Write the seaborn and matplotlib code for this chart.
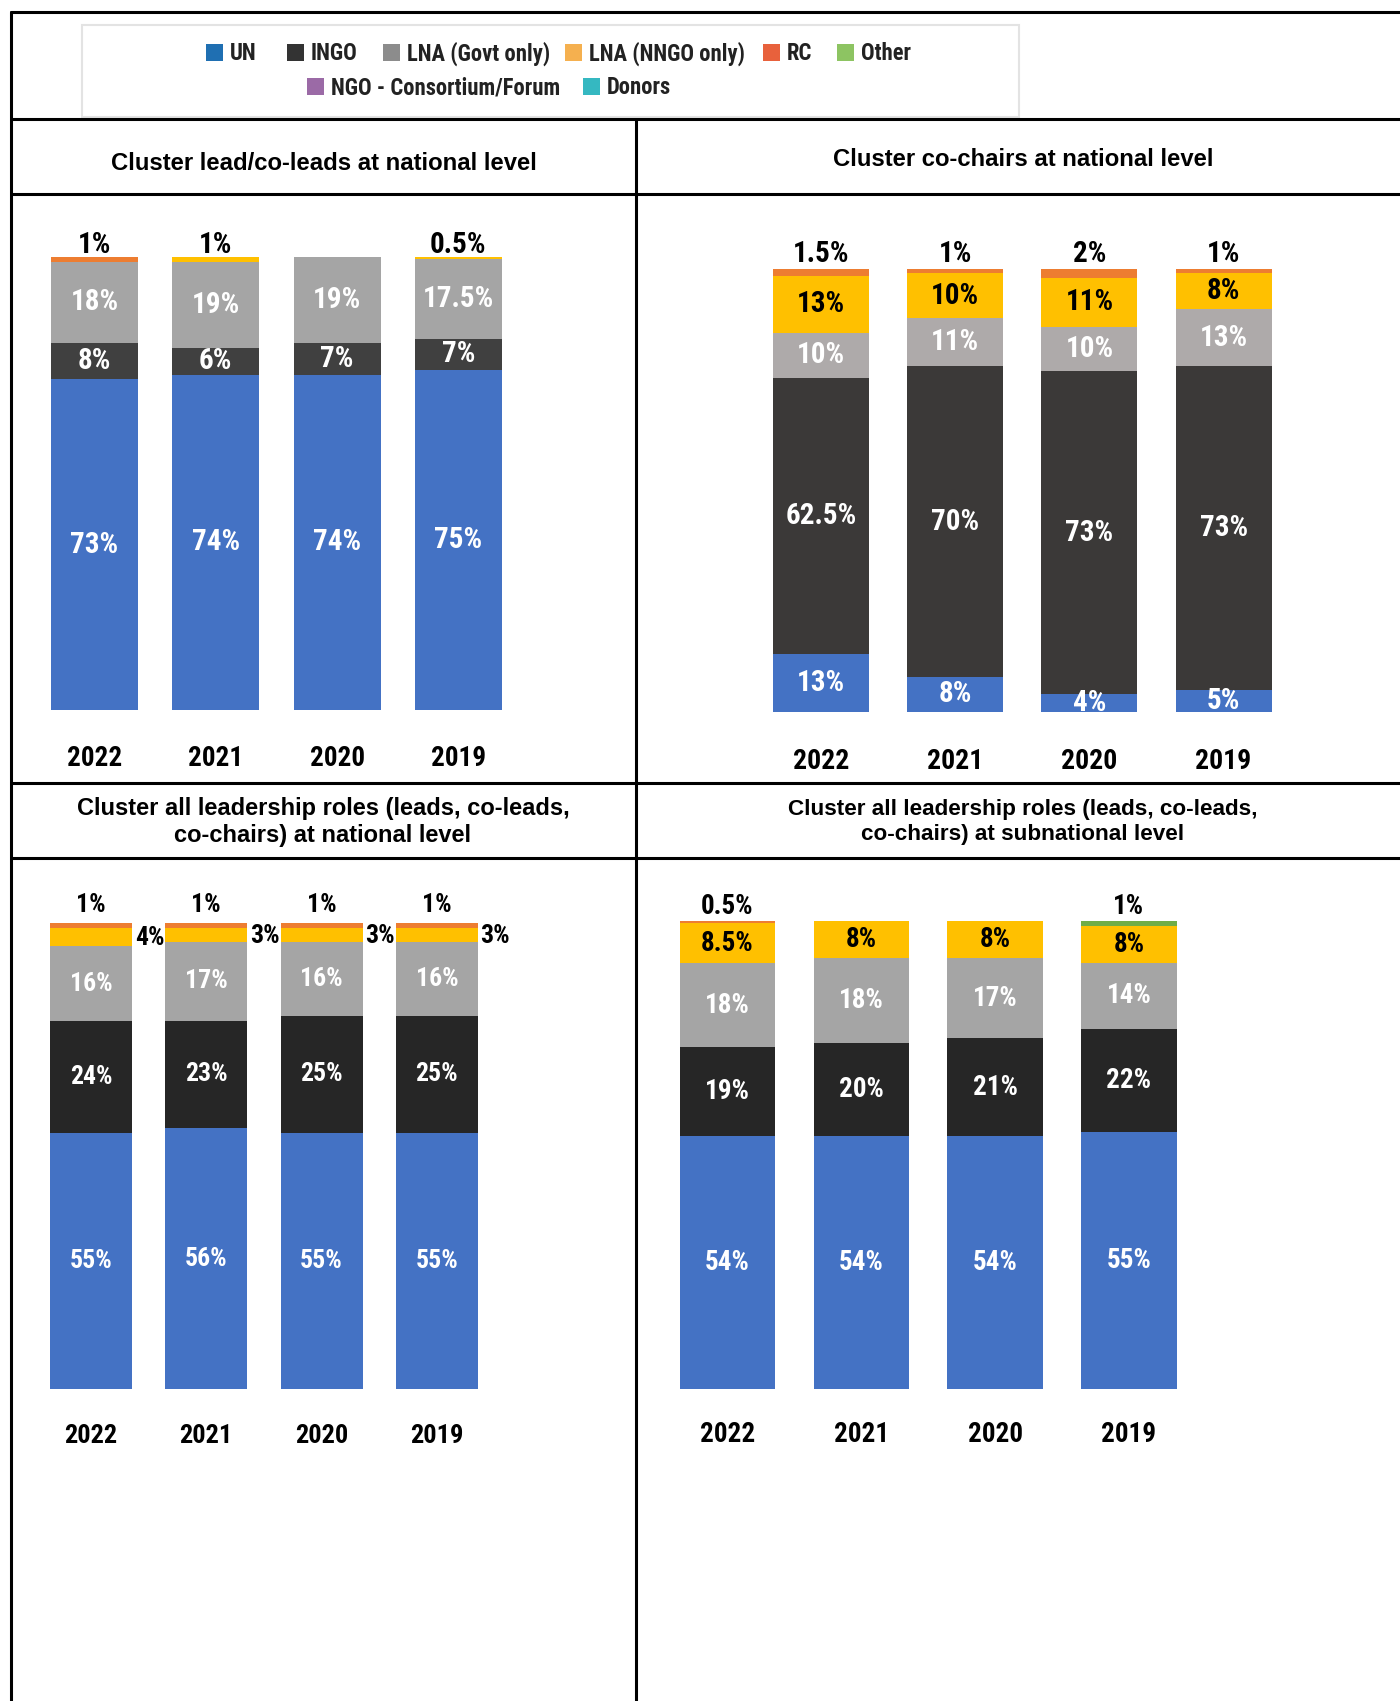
import numpy as np
import pandas as pd
import matplotlib
matplotlib.use("Agg")
import matplotlib.pyplot as plt
from matplotlib import font_manager
from matplotlib.lines import Line2D
from matplotlib.patches import Rectangle
import seaborn as sns

sns.set_style("white")
plt.rcParams["font.family"] = ["Liberation Sans", "DejaVu Sans"]

W, H = 1400, 1701
DPI = 100

years = ["2022", "2021", "2020", "2019"]

# Cluster lead/co-leads at national level (%)
lead_un = [73, 74, 74, 75]
lead_ingo = [8, 6, 7, 7]
lead_govt = [18, 19, 19, 17.5]
lead_nngo = [0, 1, 0, 0.5]
lead_rc = [1, 0, 0, 0]
lead_other = [0, 0, 0, 0]

# Cluster co-chairs at national level (%)
chair_un = [13, 8, 4, 5]
chair_ingo = [62.5, 70, 73, 73]
chair_govt = [10, 11, 10, 13]
chair_nngo = [13, 10, 11, 8]
chair_rc = [1.5, 1, 2, 1]
chair_other = [0, 0, 0, 0]

# All leadership roles at national level (%)
natl_un = [55, 56, 55, 55]
natl_ingo = [24, 23, 25, 25]
natl_govt = [16, 17, 16, 16]
natl_nngo = [4, 3, 3, 3]
natl_rc = [1, 1, 1, 1]
natl_other = [0, 0, 0, 0]

# All leadership roles at subnational level (%)
sub_un = [54, 54, 54, 55]
sub_ingo = [19, 20, 21, 22]
sub_govt = [18, 18, 17, 14]
sub_nngo = [8.5, 8, 8, 8]
sub_rc = [0.5, 0, 0, 0]
sub_other = [0, 0, 0, 1]

legend_row1 = ["UN", "INGO", "LNA (Govt only)", "LNA (NNGO only)", "RC", "Other"]
legend_row2 = ["NGO - Consortium/Forum", "Donors"]
legend_colors1 = ["#1F6FB2", "#333333", "#8C8C8C", "#F5B04F", "#E8613C", "#8DC462"]
legend_colors2 = ["#9B6AA6", "#35B8C1"]

UN_C, NNGO_C, RC_C, OTHER_C = "#4472C4", "#FFC000", "#ED7D31", "#70AD47"


def narrow_family():
    """Use a condensed sans if one is installed, else plain Liberation Sans."""
    installed = {f.name for f in font_manager.fontManager.ttflist}
    for name in ["Liberation Sans Narrow", "Arial Narrow", "Roboto Condensed",
                 "Open Sans Condensed", "DejaVu Sans Condensed", "Noto Sans Condensed"]:
        if name in installed:
            return [name, "DejaVu Sans"], True
    return ["Liberation Sans", "DejaVu Sans"], False


NARROW, HAS_NARROW = narrow_family()
SZ = 1.0 if HAS_NARROW else 0.86

fig = plt.figure(figsize=(W / DPI, H / DPI), dpi=DPI)


def px_axes(left, top, right, bottom):
    return fig.add_axes([left / W, 1 - bottom / H, (right - left) / W, (bottom - top) / H])


def fx(x):
    return x / W


def fy(y):
    return 1 - y / H


def draw_panel(ax, layers, colors, width, lab_size, year_size, year_pad, top_off):
    arr = np.array(layers, dtype=float)
    cum = np.cumsum(arr, axis=0)
    # overlapping cumulative bars, drawn from the top layer down
    for i in reversed(range(len(layers))):
        df = pd.DataFrame({"year": years, "total": cum[i]})
        sns.barplot(data=df, x="year", y="total", order=years, color=colors[i],
                    width=width, saturation=1, errorbar=None, linewidth=0, ax=ax)
    ax.set_xlim(-0.5, 3.5)
    ax.set_ylim(0, 100)
    ax.set_xlabel("")
    ax.set_ylabel("")
    ax.set_yticks([])
    ax.set_xticks(range(len(years)), years)
    for lbl in ax.get_xticklabels():
        lbl.set_fontfamily(NARROW)
        lbl.set_fontweight("bold")
        lbl.set_fontsize(year_size * SZ)
        lbl.set_color("black")
    ax.tick_params(axis="x", length=0, pad=year_pad)
    for s in ax.spines.values():
        s.set_visible(False)
    ax.patch.set_alpha(0)

    for j in range(len(years)):
        nz = [i for i in range(len(layers)) if arr[i, j] > 0]
        top_i = nz[-1]
        base = 0.0
        for i in range(len(layers)):
            v = arr[i, j]
            if v <= 0:
                continue
            txt = f"{v:g}%"
            kw = dict(fontsize=lab_size * SZ, fontweight="bold", family=NARROW, clip_on=False)
            if i == top_i and v <= 2:
                ax.annotate(txt, (j, base + v), xytext=(0, top_off), textcoords="offset points",
                            ha="center", va="bottom", color="black", **kw)
            elif v <= 4 and i > 0:
                ax.annotate(txt, (j + width / 2, base + v / 2), xytext=(2, -1),
                            textcoords="offset points", ha="left", va="center",
                            color="black", **kw)
            else:
                col = "black" if colors[i] == NNGO_C else "white"
                ax.text(j, base + v / 2, txt, ha="center", va="center", color=col, **kw)
            base += v


# --- panels ---
ax1 = px_axes(33.8, 257, 519.0, 710)
draw_panel(ax1, [lead_un, lead_ingo, lead_govt, lead_nngo, lead_rc, lead_other],
           [UN_C, "#404040", "#A5A5A5", NNGO_C, RC_C, OTHER_C],
           0.717, 21, 19.5, 25.5, -1.5)

ax2 = px_axes(753.9, 269, 1290.7, 712)
draw_panel(ax2, [chair_un, chair_ingo, chair_govt, chair_nngo, chair_rc, chair_other],
           [UN_C, "#3B3938", "#AEAAAA", NNGO_C, RC_C, OTHER_C],
           0.715, 21, 20, 26, 1)

ax3 = px_axes(33.3, 923, 494.5, 1389)
draw_panel(ax3, [natl_un, natl_ingo, natl_govt, natl_nngo, natl_rc, natl_other],
           [UN_C, "#262626", "#A5A5A5", NNGO_C, RC_C, OTHER_C],
           0.711, 18.5, 19, 25.5, 4)

ax4 = px_axes(660.6, 921, 1195.8, 1389)
draw_panel(ax4, [sub_un, sub_ingo, sub_govt, sub_nngo, sub_rc, sub_other],
           [UN_C, "#262626", "#A5A5A5", NNGO_C, RC_C, OTHER_C],
           0.714, 19.5, 19.5, 23, 0.5)

# --- panel titles ---
title_kw = dict(fontweight="bold", color="black", ha="center", va="center",
                family=["Liberation Sans", "DejaVu Sans"])
fig.text(fx(324), fy(163), "Cluster lead/co-leads at national level", fontsize=17.2, **title_kw)
fig.text(fx(1023), fy(159), "Cluster co-chairs at national level", fontsize=17.2, **title_kw)
fig.text(fx(323), fy(822), "Cluster all leadership roles (leads, co-leads,\nco-chairs) at national level",
         fontsize=17, linespacing=1.18, **title_kw)
fig.text(fx(1023), fy(822), "Cluster all leadership roles (leads, co-leads,\nco-chairs) at subnational level",
         fontsize=16.2, linespacing=1.22, **title_kw)

# --- legend ---
fig.add_artist(Rectangle((fx(82), fy(117)), (1019 - 82) / W, (117 - 25) / H,
                         transform=fig.transFigure, facecolor="white",
                         edgecolor="#E3E3E3", linewidth=1.5))
leg_kw = dict(fontsize=(16.3 if HAS_NARROW else 14), fontweight="bold", family=NARROW,
              color="#222222", ha="left", va="center")
sw = 17
row1_x = [206, 287, 383, 565, 763, 837]
for x, lab, c in zip(row1_x, legend_row1, legend_colors1):
    fig.add_artist(Rectangle((fx(x), fy(53 + sw / 2)), sw / W, sw / H,
                             transform=fig.transFigure, facecolor=c, edgecolor="none"))
    fig.text(fx(x + 24), fy(54), lab, **leg_kw)
row2_x = [307, 583]
for x, lab, c in zip(row2_x, legend_row2, legend_colors2):
    fig.add_artist(Rectangle((fx(x), fy(87 + sw / 2)), sw / W, sw / H,
                             transform=fig.transFigure, facecolor=c, edgecolor="none"))
    fig.text(fx(x + 24), fy(88), lab, **leg_kw)

# --- table frame ---
lw = 2.2
frame = [
    ((11, 1400), (12, 12)),
    ((11, 11), (12, 1701)),
    ((636, 636), (119, 1701)),
    ((11, 1400), (119, 119)),
    ((11, 1400), (194, 194)),
    ((11, 1400), (783, 783)),
    ((11, 1400), (858, 858)),
]
for xs, ys in frame:
    fig.add_artist(Line2D([fx(xs[0]), fx(xs[1])], [fy(ys[0]), fy(ys[1])],
                          transform=fig.transFigure, color="black", linewidth=lw))

fig.savefig("out.png", dpi=DPI)
